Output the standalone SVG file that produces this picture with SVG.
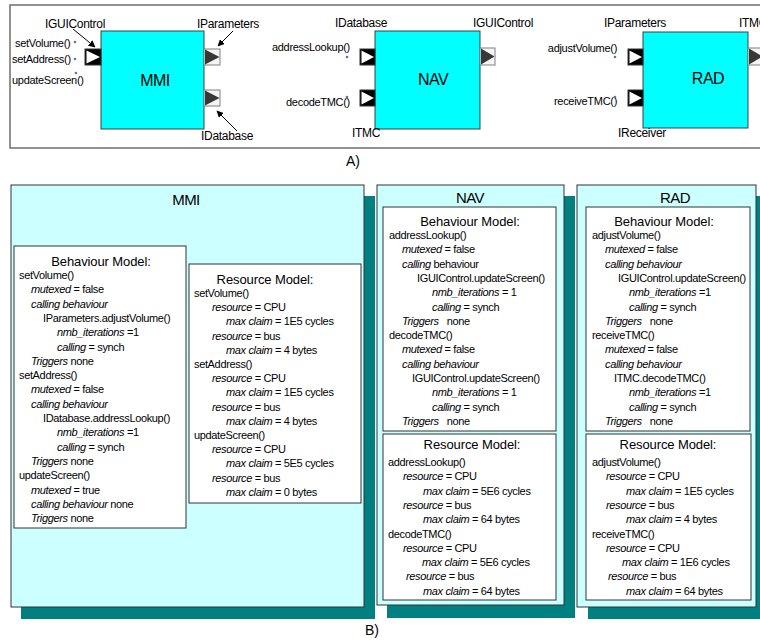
<svg xmlns="http://www.w3.org/2000/svg" width="760" height="640" viewBox="0 0 760 640">
<defs>
<style>
text{font-family:"Liberation Sans",Arial,sans-serif;fill:#000}
.t{font-size:11px;letter-spacing:-0.35px}
.i{font-style:italic}
.lbl{font-size:11px;letter-spacing:-0.3px}
.ifc{font-size:12px;letter-spacing:-0.3px}
.hd{font-size:13px;letter-spacing:-0.1px;text-anchor:middle}
.ttl{font-size:15px;letter-spacing:-0.6px;text-anchor:middle}
.comp{fill:#00ffff;stroke:#404040;stroke-width:1}
.cname{font-size:16px;text-anchor:middle;letter-spacing:-0.5px}
.outer{fill:#ccffff;stroke:#333;stroke-width:1}
.shadow{fill:#008080}
.inner{fill:#fff;stroke:#333;stroke-width:1}
.pin-bg{fill:#000;stroke:#333;stroke-width:1}
.pin-tri{fill:#fff}
.pout-bg{fill:#f4f4f4;stroke:#808080;stroke-width:1}
.pout-tri{fill:#383838}
.dot{fill:#6a72a0}
.arr{stroke:#000;stroke-width:1;fill:none;marker-end:url(#ah)}
</style>
<marker id="ah" viewBox="0 0 10 10" refX="9" refY="5" markerWidth="7" markerHeight="7" orient="auto" markerUnits="userSpaceOnUse">
<path d="M0,0 L10,5 L0,10 z" fill="#000"/>
</marker>
</defs>

<!-- Part A frame -->
<rect x="10" y="5" width="760" height="143" fill="none" stroke="#6e6e6e" stroke-width="1.5"/>

<g id="comp-mmi">
<rect class="comp" x="101" y="31" width="103" height="98"/>
<text class="cname" x="155" y="86">MMI</text>
<rect class="pin-bg" x="85" y="49" width="16" height="16"/>
<polygon class="pin-tri" points="86.5,50.5 100,57 86.5,63.5"/>
<rect class="pout-bg" x="204" y="49" width="16" height="16"/>
<polygon class="pout-tri" points="205,49.5 219.5,57 205,64.5"/>
<rect class="pout-bg" x="204" y="90" width="16" height="16"/>
<polygon class="pout-tri" points="205,90.5 219.5,98 205,105.5"/>
<text class="ifc" x="45" y="28">IGUIControl</text>
<text class="ifc" x="197" y="28">IParameters</text>
<text class="ifc" x="201" y="140">IDatabase</text>
<text class="lbl" x="15" y="47">setVolume()</text>
<text class="lbl" x="12" y="63">setAddress()</text>
<text class="lbl" x="12" y="84">updateScreen()</text>
<circle class="dot" cx="75" cy="42" r="1.3"/>
<circle class="dot" cx="75" cy="59" r="1.3"/>
<circle class="dot" cx="76" cy="73" r="1.3"/>
</g>

<g id="comp-nav">
<rect class="comp" x="375" y="31" width="105" height="98"/>
<text class="cname" x="433" y="85">NAV</text>
<rect class="pin-bg" x="360" y="49" width="15" height="16"/>
<polygon class="pin-tri" points="361.5,50.5 374,57 361.5,63.5"/>
<rect class="pin-bg" x="360" y="90" width="15" height="16"/>
<polygon class="pin-tri" points="361.5,91.5 374,98 361.5,104.5"/>
<rect class="pout-bg" x="480" y="48" width="15" height="17"/>
<polygon class="pout-tri" points="481,48.5 494.5,56.5 481,64.5"/>
<text class="ifc" x="335" y="27">IDatabase</text>
<text class="ifc" x="473" y="27">IGUIControl</text>
<text class="lbl" x="350" y="51" text-anchor="end">addressLookup()</text>
<text class="lbl" x="350" y="106" text-anchor="end">decodeTMC()</text>
<text class="ifc" x="352" y="137">ITMC</text>
<circle class="dot" cx="347" cy="57" r="1.3"/>
<circle class="dot" cx="347" cy="97" r="1.3"/>
</g>

<g id="comp-rad">
<rect class="comp" x="643" y="32" width="105" height="96"/>
<text class="cname" x="708" y="84">RAD</text>
<rect class="pin-bg" x="628" y="49" width="15" height="16"/>
<polygon class="pin-tri" points="629.5,50.5 642,57 629.5,63.5"/>
<rect class="pin-bg" x="628" y="90" width="15" height="16"/>
<polygon class="pin-tri" points="629.5,91.5 642,98 629.5,104.5"/>
<rect class="pout-bg" x="748" y="48" width="15" height="17"/>
<polygon class="pout-tri" points="749,48.5 762.5,56.5 749,64.5"/>
<text class="ifc" x="604" y="27">IParameters</text>
<text class="ifc" x="739" y="27">ITMC</text>
<text class="lbl" x="617" y="52" text-anchor="end">adjustVolume()</text>
<text class="lbl" x="617" y="105" text-anchor="end">receiveTMC()</text>
<text class="ifc" x="618" y="137">IReceiver</text>
<circle class="dot" cx="615" cy="57" r="1.3"/>
<circle class="dot" cx="615" cy="97" r="1.3"/>
</g>

<g id="connectors">
<line class="arr" x1="73" y1="29" x2="95" y2="47"/>
<line class="arr" x1="233" y1="31" x2="218" y2="46"/>
<line class="arr" x1="237" y1="131" x2="217" y2="111"/>
</g>

<text x="346" y="166" style="font-size:14px">A)</text>

<!-- Part B -->
<g id="model-mmi">
<rect class="shadow" x="21" y="196" width="354" height="423"/>
<rect class="outer" x="11" y="185" width="353" height="422"/>
<text class="ttl" x="186" y="205">MMI</text>
<rect class="inner" x="14" y="246" width="172" height="282"/>
<text class="hd" x="101" y="266">Behaviour Model:</text>
<text class="t" x="19" y="279">setVolume()</text>
<text class="t" x="31" y="293.3"><tspan class="i">mutexed</tspan> = false</text>
<text class="t" x="31" y="307.6"><tspan class="i">calling behaviour</tspan></text>
<text class="t" x="43" y="321.9">IParameters.adjustVolume()</text>
<text class="t" x="57" y="336.2"><tspan class="i">nmb_iterations</tspan> =1</text>
<text class="t" x="57" y="350.5"><tspan class="i">calling</tspan> = synch</text>
<text class="t" x="31" y="364.8"><tspan class="i">Triggers</tspan> none</text>
<text class="t" x="19" y="379.1">setAddress()</text>
<text class="t" x="31" y="393.4"><tspan class="i">mutexed</tspan> = false</text>
<text class="t" x="31" y="407.7"><tspan class="i">calling behaviour</tspan></text>
<text class="t" x="43" y="422">IDatabase.addressLookup()</text>
<text class="t" x="57" y="436.3"><tspan class="i">nmb_iterations</tspan> =1</text>
<text class="t" x="57" y="450.6"><tspan class="i">calling</tspan> = synch</text>
<text class="t" x="31" y="464.9"><tspan class="i">Triggers</tspan> none</text>
<text class="t" x="19" y="479.2">updateScreen()</text>
<text class="t" x="31" y="493.5"><tspan class="i">mutexed</tspan> = true</text>
<text class="t" x="31" y="507.8"><tspan class="i">calling behaviour</tspan> none</text>
<text class="t" x="31" y="522.1"><tspan class="i">Triggers</tspan> none</text>

<rect class="inner" x="189" y="264" width="172" height="239"/>
<text class="hd" x="265" y="284">Resource Model:</text>
<text class="t" x="194" y="297">setVolume()</text>
<text class="t" x="212" y="311.2"><tspan class="i">resource</tspan> = CPU</text>
<text class="t" x="226" y="325.4"><tspan class="i">max claim</tspan> = 1E5 cycles</text>
<text class="t" x="212" y="339.6"><tspan class="i">resource</tspan> = bus</text>
<text class="t" x="226" y="353.8"><tspan class="i">max claim</tspan> = 4 bytes</text>
<text class="t" x="194" y="368">setAddress()</text>
<text class="t" x="212" y="382.2"><tspan class="i">resource</tspan> = CPU</text>
<text class="t" x="226" y="396.4"><tspan class="i">max claim</tspan> = 1E5 cycles</text>
<text class="t" x="212" y="410.6"><tspan class="i">resource</tspan> = bus</text>
<text class="t" x="226" y="424.8"><tspan class="i">max claim</tspan> = 4 bytes</text>
<text class="t" x="194" y="439">updateScreen()</text>
<text class="t" x="212" y="453.2"><tspan class="i">resource</tspan> = CPU</text>
<text class="t" x="226" y="467.4"><tspan class="i">max claim</tspan> = 5E5 cycles</text>
<text class="t" x="212" y="481.6"><tspan class="i">resource</tspan> = bus</text>
<text class="t" x="226" y="495.8"><tspan class="i">max claim</tspan> = 0 bytes</text>
</g>

<g id="model-nav">
<rect class="shadow" x="387" y="196" width="188" height="422"/>
<rect class="outer" x="377" y="185" width="187" height="420"/>
<text class="ttl" x="470" y="203">NAV</text>
<rect class="inner" x="383" y="207" width="173" height="224"/>
<text class="hd" x="470" y="226">Behaviour Model:</text>
<text class="t" x="389" y="239">addressLookup()</text>
<text class="t" x="402" y="253.3"><tspan class="i">mutexed</tspan> = false</text>
<text class="t" x="402" y="267.6"><tspan class="i">calling</tspan> behaviour</text>
<text class="t" x="417" y="281.9">IGUIControl.updateScreen()</text>
<text class="t" x="432" y="296.2"><tspan class="i">nmb_iterations</tspan> = 1</text>
<text class="t" x="432" y="310.5"><tspan class="i">calling</tspan> = synch</text>
<text class="t" x="402" y="324.8"><tspan class="i">Triggers</tspan><tspan dx="8">none</tspan></text>
<text class="t" x="389" y="339.1">decodeTMC()</text>
<text class="t" x="402" y="353.4"><tspan class="i">mutexed</tspan> = false</text>
<text class="t" x="402" y="367.7"><tspan class="i">calling behaviour</tspan></text>
<text class="t" x="412" y="382">IGUIControl.updateScreen()</text>
<text class="t" x="432" y="396.3"><tspan class="i">nmb_iterations</tspan> = 1</text>
<text class="t" x="432" y="410.6"><tspan class="i">calling</tspan> = synch</text>
<text class="t" x="402" y="424.9"><tspan class="i">Triggers</tspan><tspan dx="8">none</tspan></text>

<rect class="inner" x="383" y="434" width="173" height="166"/>
<text class="hd" x="472" y="449">Resource Model:</text>
<text class="t" x="388" y="466">addressLookup()</text>
<text class="t" x="403" y="480.3"><tspan class="i">resource</tspan> = CPU</text>
<text class="t" x="423" y="494.6"><tspan class="i">max claim</tspan> = 5E6 cycles</text>
<text class="t" x="403" y="508.9"><tspan class="i">resource</tspan> = bus</text>
<text class="t" x="423" y="523.2"><tspan class="i">max claim</tspan> = 64 bytes</text>
<text class="t" x="388" y="537.5">decodeTMC()</text>
<text class="t" x="403" y="551.8"><tspan class="i">resource</tspan> = CPU</text>
<text class="t" x="422" y="566.1"><tspan class="i">max claim</tspan> = 5E6 cycles</text>
<text class="t" x="406" y="580.4"><tspan class="i">resource</tspan> = bus</text>
<text class="t" x="423" y="594.7"><tspan class="i">max claim</tspan> = 64 bytes</text>
</g>

<g id="model-rad">
<rect class="shadow" x="588" y="196" width="180" height="423"/>
<rect class="outer" x="577" y="185" width="179" height="422"/>
<text class="ttl" x="675" y="203">RAD</text>
<rect class="inner" x="586" y="207" width="164" height="224"/>
<text class="hd" x="664" y="226">Behaviour Model:</text>
<text class="t" x="592" y="239">adjustVolume()</text>
<text class="t" x="605" y="253.3"><tspan class="i">mutexed</tspan> = false</text>
<text class="t" x="605" y="267.6"><tspan class="i">calling behaviour</tspan></text>
<text class="t" x="618" y="281.9">IGUIControl.updateScreen()</text>
<text class="t" x="629" y="296.2"><tspan class="i">nmb_iterations</tspan> =1</text>
<text class="t" x="629" y="310.5"><tspan class="i">calling</tspan> = synch</text>
<text class="t" x="605" y="324.8"><tspan class="i">Triggers</tspan><tspan dx="8">none</tspan></text>
<text class="t" x="592" y="339.1">receiveTMC()</text>
<text class="t" x="605" y="353.4"><tspan class="i">mutexed</tspan> = false</text>
<text class="t" x="605" y="367.7"><tspan class="i">calling behaviour</tspan></text>
<text class="t" x="614" y="382">ITMC.decodeTMC()</text>
<text class="t" x="629" y="396.3"><tspan class="i">nmb_iterations</tspan> =1</text>
<text class="t" x="629" y="410.6"><tspan class="i">calling</tspan> = synch</text>
<text class="t" x="605" y="424.9"><tspan class="i">Triggers</tspan><tspan dx="8">none</tspan></text>

<rect class="inner" x="586" y="434" width="165" height="166"/>
<text class="hd" x="668" y="449">Resource Model:</text>
<text class="t" x="592" y="466">adjustVolume()</text>
<text class="t" x="606" y="480.3"><tspan class="i">resource</tspan> = CPU</text>
<text class="t" x="626" y="494.6"><tspan class="i">max claim</tspan> = 1E5 cycles</text>
<text class="t" x="606" y="508.9"><tspan class="i">resource</tspan> = bus</text>
<text class="t" x="626" y="523.2"><tspan class="i">max claim</tspan> = 4 bytes</text>
<text class="t" x="592" y="537.5">receiveTMC()</text>
<text class="t" x="606" y="551.8"><tspan class="i">resource</tspan> = CPU</text>
<text class="t" x="622" y="566.1"><tspan class="i">max claim</tspan> = 1E6 cycles</text>
<text class="t" x="608" y="580.4"><tspan class="i">resource</tspan> = bus</text>
<text class="t" x="626" y="594.7"><tspan class="i">max claim</tspan> = 64 bytes</text>
</g>

<text x="365" y="635" style="font-size:14px">B)</text>
</svg>
